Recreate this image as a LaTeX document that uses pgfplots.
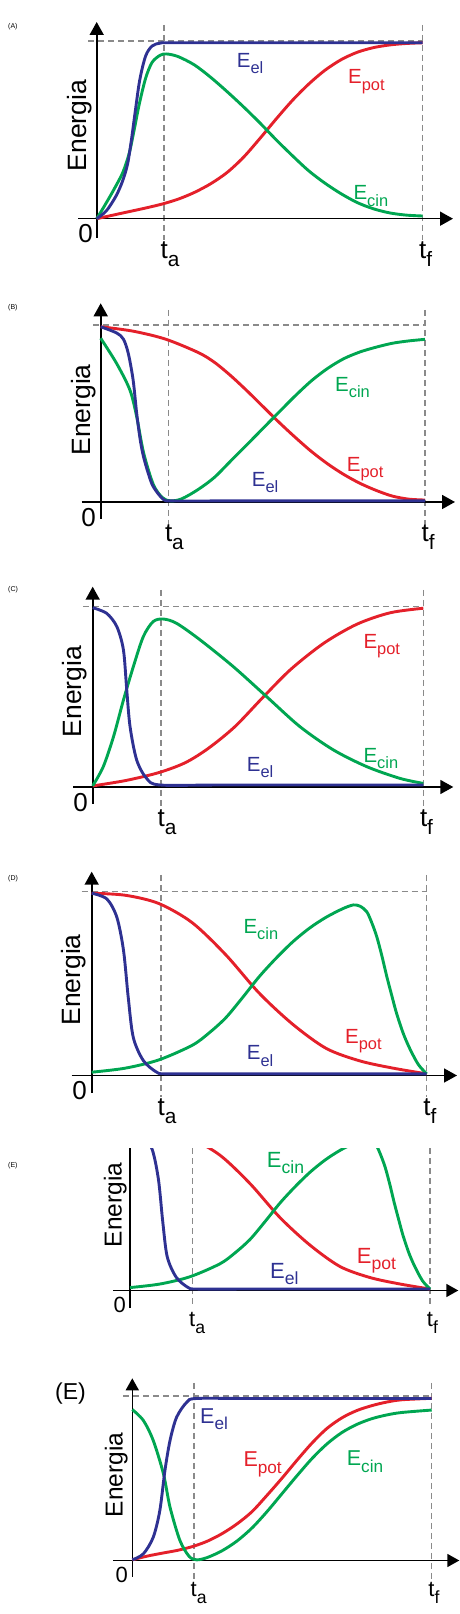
\documentclass[border=0pt]{standalone}
\usepackage{fontspec}
\setmainfont{Liberation Sans}
\usepackage{pgfplots}
\pgfplotsset{compat=1.18}
\usepackage{pgfplotstable}
\usetikzlibrary{arrows.meta}
\definecolor{cblue}{HTML}{2E3192}
\definecolor{cred}{HTML}{E4202A}
\definecolor{cgreen}{HTML}{00A651}
\definecolor{cgray}{HTML}{8A8A8A}
\newcommand{\sub}[1]{\raisebox{-0.3em}{\scalebox{0.8}{#1}}}
\newcommand{\fs}[1]{\fontsize{#1}{#1}\selectfont}

% Panel A
\pgfplotstableread{
t E
0 0
0.03 0.045
0.06 0.13
0.08 0.215
0.095 0.31
0.107 0.45
0.118 0.6
0.132 0.78
0.15 0.915
0.17 0.972
0.195 0.988
0.23 0.99
0.5 0.99
1 0.99
}\Ael
\pgfplotstableread{
t E
0 0
0.02 0.06
0.05 0.155
0.08 0.26
0.1 0.37
0.115 0.5
0.13 0.64
0.15 0.79
0.17 0.88
0.195 0.92
0.215 0.927
0.25 0.912
0.3 0.865
0.35 0.795
0.4 0.715
0.45 0.63
0.5 0.54
0.55 0.445
0.6 0.355
0.65 0.27
0.7 0.2
0.75 0.14
0.8 0.09
0.85 0.055
0.9 0.032
0.95 0.02
1 0.015
}\Acin
\pgfplotstableread{
t E
0 0
0.05 0.02
0.1 0.04
0.15 0.06
0.2 0.082
0.25 0.11
0.3 0.148
0.35 0.197
0.4 0.26
0.45 0.345
0.5 0.45
0.55 0.56
0.6 0.665
0.65 0.757
0.7 0.835
0.75 0.895
0.8 0.937
0.85 0.963
0.9 0.978
0.95 0.986
1 0.99
}\Apot
% Panel B
\pgfplotstableread{
t E
0 0.99
0.049 0.955
0.07 0.92
0.085 0.84
0.1 0.689
0.111 0.5
0.122 0.35
0.132 0.256
0.147 0.16
0.162 0.087
0.193 0.015
0.224 0.006
0.4 0.006
1 0.006
}\Bel
\pgfplotstableread{
t E
0 0.925
0.049 0.783
0.09 0.633
0.111 0.482
0.132 0.28
0.162 0.1
0.19 0.025
0.215 0.006
0.25 0.018
0.3 0.07
0.35 0.138
0.4 0.23
0.45 0.322
0.5 0.415
0.55 0.508
0.6 0.6
0.65 0.685
0.7 0.755
0.75 0.81
0.8 0.848
0.85 0.875
0.9 0.897
0.95 0.91
1 0.919
}\Bcin
\pgfplotstableread{
t E
0 0.99
0.1 0.965
0.2 0.92
0.3 0.845
0.35 0.79
0.4 0.715
0.45 0.63
0.5 0.54
0.55 0.45
0.6 0.365
0.65 0.285
0.7 0.215
0.75 0.155
0.8 0.105
0.85 0.065
0.9 0.033
0.95 0.016
1 0.011
}\Bpot
% Panel C
\pgfplotstableread{
t E
0 0.996
0.042 0.965
0.073 0.891
0.093 0.761
0.103 0.539
0.113 0.335
0.133 0.15
0.163 0.048
0.204 0.011
0.4 0.011
1 0.011
}\Cel
\pgfplotstableread{
t E
0 0.006
0.032 0.113
0.063 0.28
0.093 0.483
0.123 0.669
0.153 0.835
0.183 0.919
0.214 0.933
0.254 0.909
0.325 0.817
0.425 0.669
0.526 0.502
0.627 0.335
0.728 0.206
0.829 0.113
0.929 0.048
1 0.02
}\Ccin
\pgfplotstableread{
t E
0 0.006
0.1 0.036
0.2 0.08
0.28 0.135
0.35 0.215
0.43 0.335
0.516 0.5
0.6 0.655
0.7 0.8
0.8 0.905
0.9 0.968
1 0.993
}\Cpot
% Panel D (also used, cropped, in the small panel E)
\pgfplotstableread{
t E
0 0.996
0.045 0.965
0.075 0.865
0.095 0.683
0.109 0.428
0.124 0.209
0.154 0.082
0.194 0.018
0.224 0.009
0.4 0.009
1 0.009
}\Del
\pgfplotstableread{
t E
0 0.996
0.1 0.985
0.2 0.94
0.3 0.835
0.4 0.66
0.5 0.45
0.6 0.28
0.7 0.148
0.8 0.08
0.9 0.04
1 0.009
}\Dpot
\pgfplotstableread{
t E
0 0.018
0.1 0.04
0.2 0.085
0.3 0.165
0.35 0.232
0.4 0.315
0.45 0.425
0.5 0.54
0.55 0.64
0.6 0.73
0.65 0.805
0.7 0.865
0.75 0.912
0.781 0.932
0.801 0.925
0.821 0.895
0.836 0.835
0.851 0.758
0.866 0.655
0.881 0.54
0.896 0.435
0.91 0.34
0.93 0.23
0.95 0.145
0.975 0.06
1 0.009
}\Dcin
% Panel F (second "(E)")
\pgfplotstableread{
t E
0 0.004
0.037 0.041
0.07 0.143
0.092 0.307
0.109 0.552
0.126 0.736
0.148 0.879
0.182 0.971
0.215 0.994
0.4 0.994
1 0.994
}\Fel
\pgfplotstableread{
t E
0 0.926
0.037 0.859
0.07 0.736
0.104 0.532
0.126 0.327
0.159 0.123
0.19 0.025
0.215 0.004
0.25 0.018
0.3 0.06
0.35 0.12
0.4 0.2
0.45 0.3
0.5 0.41
0.55 0.52
0.6 0.625
0.65 0.715
0.7 0.785
0.75 0.835
0.8 0.87
0.85 0.893
0.9 0.908
1 0.923
}\Fcin
\pgfplotstableread{
t E
0 0.004
0.05 0.027
0.1 0.045
0.15 0.062
0.2 0.085
0.25 0.118
0.3 0.165
0.35 0.225
0.4 0.3
0.45 0.4
0.5 0.505
0.55 0.615
0.6 0.72
0.65 0.81
0.7 0.875
0.75 0.92
0.8 0.95
0.85 0.972
0.9 0.986
1 0.995
}\Fpot

\pgfplotsset{
  panel/.style={hide axis, clip=false, anchor=origin,
    xmin=-0.05, xmax=1.05, ymin=-0.05, ymax=1.05},
  cel/.style={cblue, line width=2.9pt, smooth, no marks},
  cpot/.style={cred, line width=2.9pt, smooth, no marks},
  ccin/.style={cgreen, line width=2.9pt, smooth, no marks},
}
\tikzset{
  ax/.style={line width=1.6pt, -{Triangle[width=14pt,length=13pt]}},
  axs/.style={line width=1.6pt, -{Triangle[width=13pt,length=12pt]}},
  dsh/.style={cgray, line width=1.3pt, dash pattern=on 6pt off 4pt},
  lb/.style={anchor=base west, inner sep=0pt},
}

\begin{document}
\begin{tikzpicture}
\useasboundingbox (0,0) rectangle (460pt,1614pt);
\begin{scope}[x=1pt,y=-1pt,shift={(0pt,1614pt)}]
% ---------- Panel A ----------
\draw[dsh] (88,41) -- (422.7,41);
\draw[dsh] (164,25) -- (164,240);
\draw[dsh] (422.7,25) -- (422.7,240);
\draw[ax] (96.7,238) -- (96.7,22);
\draw[ax] (78,218.7) -- (453,218.7);
\node[lb, font=\fs{7}] at (8,29) {(A)};
\node[rotate=90, anchor=base, inner sep=0pt, font=\fs{26.5}] at (86,125.5) {Energia};
\node[anchor=base east, inner sep=0pt, font=\fs{26}] at (93,243) {0};
\node[lb, font=\fs{26}] at (160.5,259) {t\sub{a}};
\node[lb, font=\fs{26}] at (419,259) {t\sub{f}};
\node[lb, font=\fs{20.5}, text=cblue] at (236.7,67.3) {E\sub{el}};
\node[lb, font=\fs{20.5}, text=cred] at (348,84) {E\sub{pot}};
\node[lb, font=\fs{20.5}, text=cgreen] at (353.3,200) {E\sub{cin}};
% ---------- Panel B ----------
\draw[dsh] (93,325) -- (425,325);
\draw[dsh] (168.3,310) -- (168.3,524);
\draw[dsh] (425,310) -- (425,524);
\draw[ax] (100.7,519) -- (100.7,303.3);
\draw[ax] (81.7,502) -- (455,502);
\node[lb, font=\fs{7}] at (8,309.3) {(B)};
\node[rotate=90, anchor=base, inner sep=0pt, font=\fs{26.5}] at (90,410) {Energia};
\node[anchor=base east, inner sep=0pt, font=\fs{26}] at (96,527) {0};
\node[lb, font=\fs{26}] at (164.8,542) {t\sub{a}};
\node[lb, font=\fs{26}] at (421.5,542) {t\sub{f}};
\node[lb, font=\fs{20.5}, text=cgreen] at (335,391.7) {E\sub{cin}};
\node[lb, font=\fs{20.5}, text=cred] at (346.7,471.7) {E\sub{pot}};
\node[lb, font=\fs{20.5}, text=cblue] at (251.7,486.7) {E\sub{el}};
% ---------- Panel C ----------
\draw[dsh] (83.3,606.7) -- (423.3,606.7);
\draw[dsh] (161,590) -- (161,809);
\draw[dsh] (423.3,590) -- (423.3,809);
\draw[ax] (92.7,804) -- (92.7,586.7);
\draw[ax] (73.3,787) -- (453.3,787);
\node[lb, font=\fs{7}] at (8,591.7) {(C)};
\node[rotate=90, anchor=base, inner sep=0pt, font=\fs{26.5}] at (81.7,691.7) {Energia};
\node[anchor=base east, inner sep=0pt, font=\fs{26}] at (88,811.5) {0};
\node[lb, font=\fs{26}] at (157.5,827) {t\sub{a}};
\node[lb, font=\fs{26}] at (419.8,827) {t\sub{f}};
\node[lb, font=\fs{20.5}, text=cred] at (363.3,648.3) {E\sub{pot}};
\node[lb, font=\fs{20.5}, text=cgreen] at (363.3,762.7) {E\sub{cin}};
\node[lb, font=\fs{20.5}, text=cblue] at (246.7,771.7) {E\sub{el}};
% ---------- Panel D ----------
\draw[dsh] (81.7,891.5) -- (426.7,891.5);
\draw[dsh] (161,875) -- (161,1097);
\draw[dsh] (426.7,875) -- (426.7,1097);
\draw[ax] (91.7,1093) -- (91.7,871.7);
\draw[ax] (71.7,1075.5) -- (457,1075.5);
\node[lb, font=\fs{7}] at (8,881) {(D)};
\node[rotate=90, anchor=base, inner sep=0pt, font=\fs{26.5}] at (80,980) {Energia};
\node[anchor=base east, inner sep=0pt, font=\fs{26}] at (87,1100) {0};
\node[lb, font=\fs{26}] at (157.5,1116) {t\sub{a}};
\node[lb, font=\fs{26}] at (423.2,1116) {t\sub{f}};
\node[lb, font=\fs{20.5}, text=cgreen] at (243.3,933.3) {E\sub{cin}};
\node[lb, font=\fs{20.5}, text=cred] at (345,1043.3) {E\sub{pot}};
\node[lb, font=\fs{20.5}, text=cblue] at (246.7,1060) {E\sub{el}};
% ---------- Panel E (small, cropped) ----------
\draw[dsh] (192.3,1148.3) -- (192.3,1308);
\draw[dsh] (430,1148.3) -- (430,1308);
\draw[line width=1.6pt] (130,1308) -- (130,1148.3);
\draw[axs] (113.3,1290.5) -- (458.3,1290.5);
\node[lb, font=\fs{7}] at (8,1167.3) {(E)};
\node[rotate=90, anchor=base, inner sep=0pt, font=\fs{24.5}] at (121.7,1205) {Energia};
\node[anchor=base east, inner sep=0pt, font=\fs{22}] at (126,1313) {0};
\node[lb, font=\fs{22}] at (189,1327) {t\sub{a}};
\node[lb, font=\fs{22}] at (426.7,1327) {t\sub{f}};
\begin{scope}
\clip (200,1148.3) rectangle (360,1200);
\node[lb, font=\fs{22}, text=cgreen] at (266.7,1167.3) {E\sub{cin}};
\end{scope}
\node[lb, font=\fs{22}, text=cred] at (356.7,1263.3) {E\sub{pot}};
\node[lb, font=\fs{22}, text=cblue] at (270,1278.3) {E\sub{el}};
% ---------- Panel F (big "(E)") ----------
\draw[dsh] (123.3,1396) -- (431.7,1396);
\draw[dsh] (194,1383) -- (194,1580);
\draw[dsh] (431.7,1383) -- (431.7,1580);
\draw[axs] (132.3,1577) -- (132.3,1378.3);
\draw[axs] (113.3,1560.5) -- (459.3,1560.5);
\node[lb, font=\fs{23}] at (55,1400) {(E)};
\node[rotate=90, anchor=base, inner sep=0pt, font=\fs{24.5}] at (122.7,1475) {Energia};
\node[anchor=base east, inner sep=0pt, font=\fs{22}] at (128,1583) {0};
\node[lb, font=\fs{22}] at (190.5,1597) {t\sub{a}};
\node[lb, font=\fs{22}] at (428.2,1597) {t\sub{f}};
\node[lb, font=\fs{21.5}, text=cblue] at (200,1423.3) {E\sub{el}};
\node[lb, font=\fs{21.5}, text=cred] at (243.3,1466.7) {E\sub{pot}};
\node[lb, font=\fs{21.5}, text=cgreen] at (346.7,1466) {E\sub{cin}};
\end{scope}

% ---------- Axes with the curves ----------
\begin{axis}[panel, x=326pt, y=177.7pt, at={(96.7pt,1395.3pt)}]
\addplot[cpot] table[x=t,y=E]{\Apot};
\addplot[ccin] table[x=t,y=E]{\Acin};
\addplot[cel] table[x=t,y=E]{\Ael};
\end{axis}
\begin{axis}[panel, x=324.3pt, y=177pt, at={(100.7pt,1112pt)}]
\addplot[cpot] table[x=t,y=E]{\Bpot};
\addplot[ccin] table[x=t,y=E]{\Bcin};
\addplot[cel] table[x=t,y=E]{\Bel};
\end{axis}
\begin{axis}[panel, x=330.6pt, y=180pt, at={(92.7pt,827pt)}]
\addplot[cpot] table[x=t,y=E]{\Cpot};
\addplot[ccin] table[x=t,y=E]{\Ccin};
\addplot[cel] table[x=t,y=E]{\Cel};
\end{axis}
\begin{axis}[panel, x=335pt, y=183pt, at={(91.7pt,538.5pt)}]
\addplot[cpot] table[x=t,y=E]{\Dpot};
\addplot[ccin] table[x=t,y=E]{\Dcin};
\addplot[cel] table[x=t,y=E]{\Del};
\end{axis}
\begin{axis}[panel, x=300pt, y=162pt, at={(130pt,323.5pt)}, ymax=0.875, clip=true, clip mode=individual]
\addplot[cpot] table[x=t,y=E]{\Dpot};
\addplot[ccin] table[x=t,y=E]{\Dcin};
\addplot[cel] table[x=t,y=E]{\Del};
\end{axis}
\begin{axis}[panel, x=299.4pt, y=163pt, at={(132.3pt,53.5pt)}]
\addplot[cpot] table[x=t,y=E]{\Fpot};
\addplot[ccin] table[x=t,y=E]{\Fcin};
\addplot[cel] table[x=t,y=E]{\Fel};
\end{axis}
\end{tikzpicture}
\end{document}
